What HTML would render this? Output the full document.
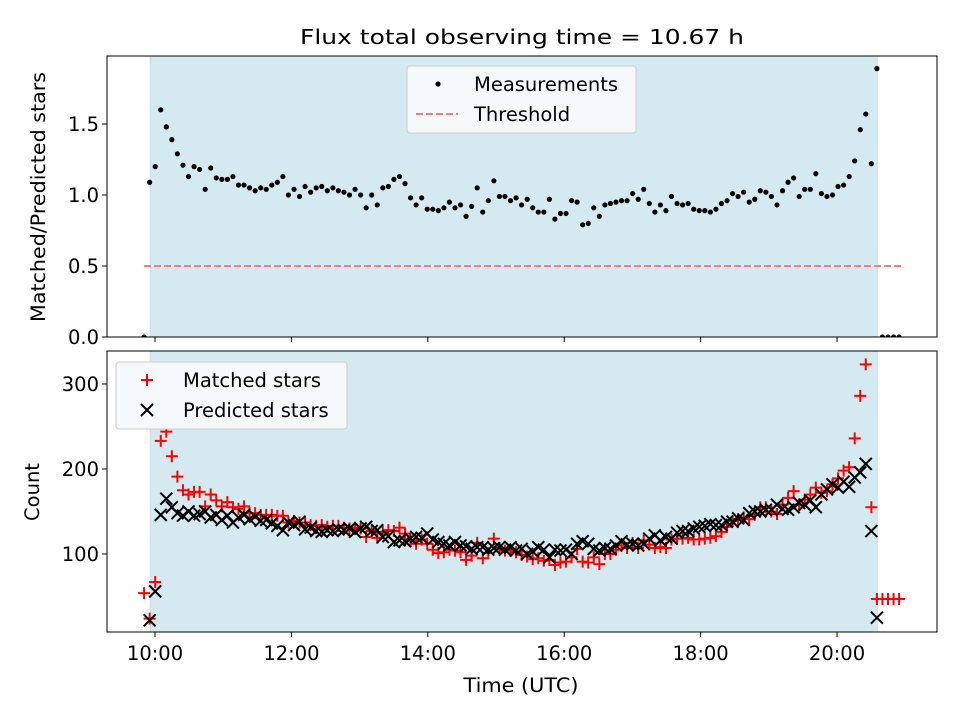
<!DOCTYPE html>
<html><head><meta charset="utf-8"><style>
body{margin:0;background:#fff;}
svg text{font-family:"DejaVu Sans","Liberation Sans",sans-serif;fill:#000;}
</style></head><body>
<svg id="fig" width="960" height="720" viewBox="0 0 960 720" xmlns="http://www.w3.org/2000/svg">
<rect width="960" height="720" fill="#fff"/>
<text x="522" y="44" font-size="20.8" text-anchor="middle" textLength="444" lengthAdjust="spacingAndGlyphs">Flux total observing time = 10.67 h</text>
<g id="topPanel"></g>
<g id="botPanel"></g>
<text x="521" y="692" font-size="19.5" text-anchor="middle" textLength="115" lengthAdjust="spacingAndGlyphs">Time (UTC)</text>
<text transform="translate(45,197) rotate(-90)" font-size="19.5" text-anchor="middle" textLength="250" lengthAdjust="spacingAndGlyphs">Matched/Predicted stars</text>
<text transform="translate(39,492) rotate(-90)" font-size="19.5" text-anchor="middle">Count</text>
</svg>
<script>
const tStart = 9.84, tStep = 0.0814;
const ratio = [0,1.09,1.20,1.60,1.48,1.39,1.29,1.21,1.13,1.20,1.18,1.04,1.19,1.12,1.11,1.11,1.13,1.07,1.07,1.05,1.03,1.05,1.04,1.07,1.09,1.13,1.00,1.04,0.99,1.06,1.02,1.05,1.06,1.03,1.05,1.03,1.02,1.00,1.04,1.00,0.91,1.00,0.93,1.05,1.06,1.11,1.13,1.08,0.98,0.93,0.98,0.90,0.90,0.89,0.91,0.95,0.91,0.93,0.85,0.92,1.05,0.88,0.96,1.10,0.99,0.99,0.96,0.98,0.93,0.97,0.91,0.88,0.88,0.97,0.83,0.87,0.87,0.96,0.95,0.79,0.80,0.91,0.85,0.93,0.94,0.95,0.96,0.96,1.01,0.97,1.04,0.94,0.88,0.93,0.89,0.99,0.94,0.93,0.94,0.90,0.89,0.89,0.88,0.90,0.94,0.96,1.01,0.99,1.02,0.95,0.97,1.03,1.02,0.99,0.93,1.03,1.09,1.12,0.99,1.04,1.04,1.15,1.01,0.99,1.00,1.06,1.07,1.13,1.24,1.46,1.57,1.22,1.89,0,0,0,0];
const predicted = [0,22,56,146,165,155,148,145,150,145,147,150,143,146,140,145,137,143,146,141,144,139,140,136,133,128,137,134,138,129,131,127,126,128,127,129,128,130,126,130,132,127,128,120,121,114,116,115,118,120,119,124,117,114,112,110,114,110,109,106,108,108,105,107,108,105,108,104,106,100,103,108,105,96,105,104,105,100,112,115,112,106,104,107,106,110,115,111,112,110,112,118,122,116,120,118,125,127,127,130,132,133,135,134,134,138,138,142,140,148,150,150,152,152,158,153,152,155,160,158,163,155,170,176,182,178,185,179,190,196,206,127,25,0,0,0,0];
const matched = [54,24,67,233,244,215,191,175,170,173,173,156,170,163,156,161,155,153,156,148,148,146,146,146,145,145,137,139,137,137,134,133,134,132,133,133,131,130,131,130,120,127,119,126,128,127,131,124,116,112,117,112,105,101,102,105,104,102,93,98,113,95,101,118,107,104,104,102,99,97,94,95,92,93,87,90,91,96,106,91,90,96,88,100,100,105,110,107,113,107,116,111,107,108,107,117,118,118,119,117,117,118,119,121,126,132,139,141,143,141,146,155,155,150,147,158,166,174,158,164,170,178,172,174,182,189,198,202,236,286,323,155,47,47,47,47,47];
const xTicks = [10,12,14,16,18,20];
const xTickLabels = ["10:00","12:00","14:00","16:00","18:00","20:00"];
const topTicks = [0,0.5,1.0,1.5];
const botTicks = [100,200,300];
const spanStart = 9.93, spanEnd = 20.59, threshold = 0.5, thrStart = 9.84, thrEnd = 20.95;

const NS="http://www.w3.org/2000/svg";
const AL=107,AR=937;
const xs = h => AL + (h-9.296)/(21.466-9.296)*(AR-AL);
const yTop = v => 337 - v/1.979*281;
const yBot = v => 632 - (v-8.2)/(338.8-8.2)*281;
function mk(tag,attrs,parent){const e=document.createElementNS(NS,tag);for(const k in attrs)e.setAttribute(k,attrs[k]);parent.appendChild(e);return e;}
const topG=document.getElementById('topPanel'), botG=document.getElementById('botPanel');
const times = ratio.map((_,i)=>tStart+i*tStep);

function panel(g,y0,y1,name){
  const cid='clip'+name;
  const d=mk('clipPath',{id:cid},g); mk('rect',{x:AL,y:y0,width:AR-AL,height:y1-y0},d);
  const sp=mk('rect',{x:xs(spanStart),y:y0,width:xs(spanEnd)-xs(spanStart),height:y1-y0,fill:'#d4eaf0',stroke:'#c3e0ea'},g);
  
  
  const inner=mk('g',{'clip-path':'url(#'+cid+')'},g);
  xTicks.forEach((t,i)=>{
    const tk=mk('line',{x1:xs(t),x2:xs(t),y1:y1,y2:y1+5,stroke:'#000','stroke-width':1},g);
    
    
  });
  return inner;
}
function frame(g,y0,y1,name){
  const f=mk('rect',{x:AL,y:y0,width:AR-AL,height:y1-y0,fill:'none',stroke:'#000','stroke-width':1},g);
  
  
}
const ti=panel(topG,56,337,'top');
const th=mk('line',{x1:xs(thrStart),x2:xs(thrEnd),y1:yTop(threshold),y2:yTop(threshold),stroke:'#f08080','stroke-width':2,'stroke-dasharray':'7,3'},ti);


ratio.forEach((v,i)=>{
  const c=mk('circle',{cx:xs(times[i]),cy:yTop(v),r:2.6,fill:'#000'},ti);
  
  
});
frame(topG,56,337,'top');
topTicks.forEach(v=>{
  const y=yTop(v);
  mk('line',{x1:AL-5,x2:AL,y1:y,y2:y,stroke:'#000'},topG);
  const t=mk('text',{x:AL-8,y:y+7,'font-size':19.5,'text-anchor':'end'},topG);
  t.textContent=v.toFixed(1);
  
  
});
const bi=panel(botG,351,632,'bottom');
matched.forEach((v,i)=>{
  const x=xs(times[i]),y=yBot(v);
  const p=mk('path',{d:`M${x-6},${y}H${x+6}M${x},${y-6}V${y+6}`,stroke:'#ff0000','stroke-width':2},bi);
  
  
});
predicted.forEach((v,i)=>{
  const x=xs(times[i]),y=yBot(v);
  const p=mk('path',{d:`M${x-6},${y-6}L${x+6},${y+6}M${x-6},${y+6}L${x+6},${y-6}`,stroke:'#000','stroke-width':2},bi);
  
  
});
frame(botG,351,632,'bottom');
botTicks.forEach(v=>{
  const y=yBot(v);
  mk('line',{x1:AL-5,x2:AL,y1:y,y2:y,stroke:'#000'},botG);
  const t=mk('text',{x:AL-8,y:y+7,'font-size':19.5,'text-anchor':'end'},botG);
  t.textContent=v;
  
  
});
xTicks.forEach((h,i)=>{
  const t=mk('text',{x:xs(h),y:660,'font-size':19.5,'text-anchor':'middle'},botG);
  t.textContent=xTickLabels[i];
  
  
});
function legend(g,x,y,w,items,name){
  const lg=mk('g',{},g);
  
  
  mk('rect',{x:x,y:y,width:w,height:67,rx:3,fill:'#f5f9fb',stroke:'#cccccc'},lg);
  items.forEach((it,i)=>{
    const cy=y+18+i*30, mx=x+31;
    if(it.k==='dot') mk('circle',{cx:mx,cy:cy,r:2.6,fill:'#000'},lg);
    if(it.k==='dash') mk('line',{x1:mx-22,x2:mx+20,y1:cy,y2:cy,stroke:'#f08080','stroke-width':2,'stroke-dasharray':'7,3'},lg);
    if(it.k==='plus') mk('path',{d:`M${mx-6},${cy}H${mx+6}M${mx},${cy-6}V${cy+6}`,stroke:'#f00','stroke-width':2},lg);
    if(it.k==='x') mk('path',{d:`M${mx-6},${cy-6}L${mx+6},${cy+6}M${mx-6},${cy+6}L${mx+6},${cy-6}`,stroke:'#000','stroke-width':2},lg);
    const t=mk('text',{x:x+67,y:cy+7,'font-size':19.5},lg);
    t.textContent=it.t;
    
    
  });
}
legend(topG,407,66,229,[{k:'dot',t:'Measurements'},{k:'dash',t:'Threshold'}],'top-legend');
legend(botG,116,362,231,[{k:'plus',t:'Matched stars'},{k:'x',t:'Predicted stars'}],'bottom-legend');
</script>
</body></html>
